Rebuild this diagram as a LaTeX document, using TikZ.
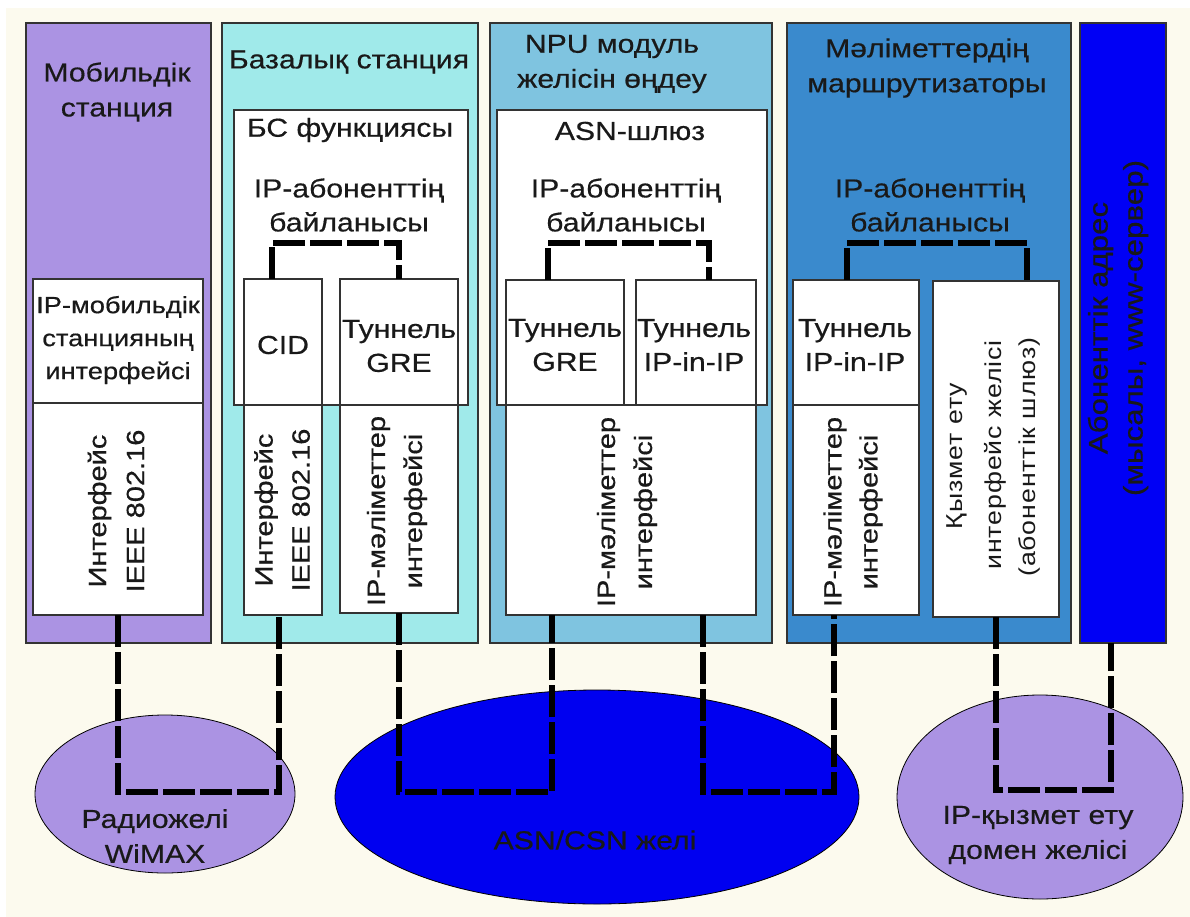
\documentclass[tikz,border=0pt]{standalone}
\usepackage{fontspec}
\setmainfont{Liberation Sans}[FakeStretch=1.16,FakeBold=0.5]
\newfontfamily\svcfont{Liberation Sans}[FakeStretch=1.16,LetterSpace=4]
\usetikzlibrary{calc,shapes.geometric}
\definecolor{bgcream}{HTML}{FCFAEE}
\definecolor{cA}{HTML}{AB93E3}
\definecolor{cB}{HTML}{A0EAEA}
\definecolor{cC}{HTML}{7FC4E0}
\definecolor{cD}{HTML}{3A8ACD}
\definecolor{cE}{HTML}{0000F5}
\definecolor{cEll}{HTML}{0000F0}
\begin{document}
\begin{tikzpicture}[x=1pt,y=-1pt,
  rect/.style n args={4}{at={(#1,#2)}, anchor=north west, minimum width={#3-#1}, minimum height={#4-#2}},
  col/.style={draw=black!80, line width=1.4pt, inner sep=0pt, outer sep=0pt},
  box/.style={draw=black!80, line width=1.2pt, fill=white, inner sep=0pt, outer sep=0pt},
  frame/.style={draw=black!80, line width=1.2pt, inner sep=0pt, outer sep=0pt},
  ell/.style={ellipse, draw=black, line width=0.8pt, inner sep=0pt},
  lbl/.style={align=center, text=black!90, inner sep=0pt, font=\fontsize{26}{34}\selectfont},
  svclbl/.style={rotate=90, text=black!90, inner sep=0pt, font=\svcfont\fontsize{23}{36}\selectfont},
  conn/.style={draw=black, line width=5.5pt, dash pattern=on 32pt off 5pt, line join=miter, line cap=butt}]
\useasboundingbox (0,0) rectangle (1190,917);
\fill[white] (0,0) rectangle (1190,917);
\fill[bgcream] (6,8) rectangle (1190,917);

% columns
\node[col, fill=cA, rect={26}{23}{211}{643}] (ms) {};
\node[col, fill=cB, rect={222}{23}{478}{643}] (bs) {};
\node[col, fill=cC, rect={490}{23}{772}{643}] (npu) {};
\node[col, fill=cD, rect={787}{23}{1071}{643}] (rt) {};
\node[col, fill=cE, rect={1080}{23}{1166}{643}] (srv) {};

% mobile station boxes
\node[box, rect={33}{279}{203}{403}] (msip) {};
\node[box, rect={33}{403}{203}{615}] (msif) {};

% base station boxes
\node[box, rect={234}{110}{468}{405}] (bsf) {};
\node[box, rect={244}{279}{322}{615}] (cid) {};
\node[box, rect={340}{279}{458}{613}] (bsgre) {};
\node[frame, rect={234}{110}{468}{405}] (bsfo) {};

% NPU boxes
\node[box, rect={497}{110}{767}{405}] (asn) {};
\node[box, rect={506}{280}{624}{405}] (npugre) {};
\node[box, rect={636}{280}{756}{405}] (npuipip) {};
\node[box, rect={506}{405}{756}{615}] (npuif) {};

% router boxes
\node[box, rect={793}{280}{919}{405}] (rtipip) {};
\node[box, rect={793}{405}{919}{615}] (rtif) {};
\node[box, rect={933}{281}{1059}{617}] (svc) {};

% ellipses
\node[ell, fill=cA, minimum width=260, minimum height=158] (e1) at (165,794) {};
\node[ell, fill=cEll, minimum width=524, minimum height=214] (e2) at (597,797) {};
\node[ell, fill=cA, minimum width=286, minimum height=204] (e3) at (1040,797) {};

% helper coordinates
\coordinate (barTop) at (0,243);
\coordinate (barLow) at (0,792);
\coordinate (cidT) at ([xshift=-11pt]cid.north);
\coordinate (cidB) at ([xshift=-4pt]cid.south);
\coordinate (npuGT) at ([xshift=-17pt]npugre.north);
\coordinate (npuIT) at ([xshift=13pt]npuipip.north);
\coordinate (rtIT) at ([xshift=-9pt]rtipip.north);
\coordinate (svcT) at ([xshift=31pt]svc.north);
\coordinate (npuL) at ([xshift=-79pt]npuif.south);
\coordinate (npuR) at ([xshift=72pt]npuif.south);
\coordinate (rtB) at ([xshift=-22pt]rtif.south);
\coordinate (srvB) at ([xshift=-12pt]srv.south);

% connectors
\draw[conn] (cidT) -- (cidT |- barTop) -| (bsgre.north);
\draw[conn] (npuGT) -- (npuGT |- barTop) -| (npuIT);
\draw[conn] (rtIT) -- (rtIT |- barTop) -| (svcT);
\draw[conn] (msif.south) -- (msif.south |- barLow) -| (cidB);
\draw[conn] (bsgre.south) -- (bsgre.south |- barLow) -| (npuL);
\draw[conn] (npuR) -- (npuR |- barLow) -| (rtB);
\draw[conn] (svc.south) -- ([yshift=2pt]svc.south |- barLow) -| (srvB);

% column headings
\node[lbl, font=\fontsize{26}{35}\selectfont] (msT) at (117,92) {Мобильдік\\станция};
\node[lbl] (bsT) at (349,62) {Базалық станция};
\node[lbl, font=\fontsize{26}{35}\selectfont] (npuT) at (612,64) {NPU модуль\\желісін өңдеу};
\node[lbl, font=\fontsize{26}{35}\selectfont] (rtT) at (927,68) {Мәліметтердің\\маршрутизаторы};

% sub headings
\node[lbl] (bsfT) at (350,130) {БС функциясы};
\node[lbl] (bsfS) at (349,205) {IP-абоненттің\\байланысы};
\node[lbl] (asnT) at (630,131) {ASN-шлюз};
\node[lbl] (asnS) at (626,205) {IP-абоненттің\\байланысы};
\node[lbl] (rtS) at (930,205) {IP-абоненттің\\байланысы};

% box texts
\node[lbl, font=\fontsize{23.5}{33}\selectfont] (msipT) at (118,340) {IP-мобильдік\\станцияның\\интерфейсі};
\node[lbl] (cidTx) at (283,345) {CID};
\node[lbl] (bsgreT) at (399,346) {Туннель\\GRE};
\node[lbl] (npugreT) at (565,345) {Туннель\\GRE};
\node[lbl] (npuipipT) at (694,345) {Туннель\\IP-in-IP};
\node[lbl] (rtipipT) at (855,345) {Туннель\\IP-in-IP};

% rotated texts
\node[lbl, rotate=90, font=\fontsize{25}{38}\selectfont] (msifT) at (116,511) {Интерфейс\\IEEE 802.16};
\node[lbl, rotate=90, font=\fontsize{25}{37}\selectfont] (cidifT) at (282,510) {Интерфейс\\IEEE 802.16};
\node[lbl, rotate=90, font=\fontsize{25}{37}\selectfont] (bsifT) at (397,511) {IP-мәліметтер\\интерфейсі};
\node[lbl, rotate=90, font=\fontsize{25}{37}\selectfont] (npuifT) at (627,512) {IP-мәліметтер\\интерфейсі};
\node[lbl, rotate=90, font=\fontsize{25}{36}\selectfont] (rtifT) at (853,512) {IP-мәліметтер\\интерфейсі};
\node[svclbl] (svcTa) at (957,456) {Қызмет ету};
\node[svclbl] (svcTb) at (995,455) {интерфейс желісі};
\node[svclbl] (svcTc) at (1029,457) {(абоненттік шлюз)};
\node[lbl, rotate=90, font=\fontsize{27}{35}\selectfont] (srvT) at (1118,328) {Абоненттік адрес\\(мысалы, www-сервер)};

% ellipse texts
\node[lbl, font=\fontsize{26}{35}\selectfont] (e1T) at (155,836) {Радиожелі\\WiMAX};
\node[lbl] (e2T) at (595,840) {ASN/CSN желі};
\node[lbl, font=\fontsize{26}{35}\selectfont] (e3T) at (1038,835) {IP-қызмет ету\\домен желісі};
\end{tikzpicture}
\end{document}
